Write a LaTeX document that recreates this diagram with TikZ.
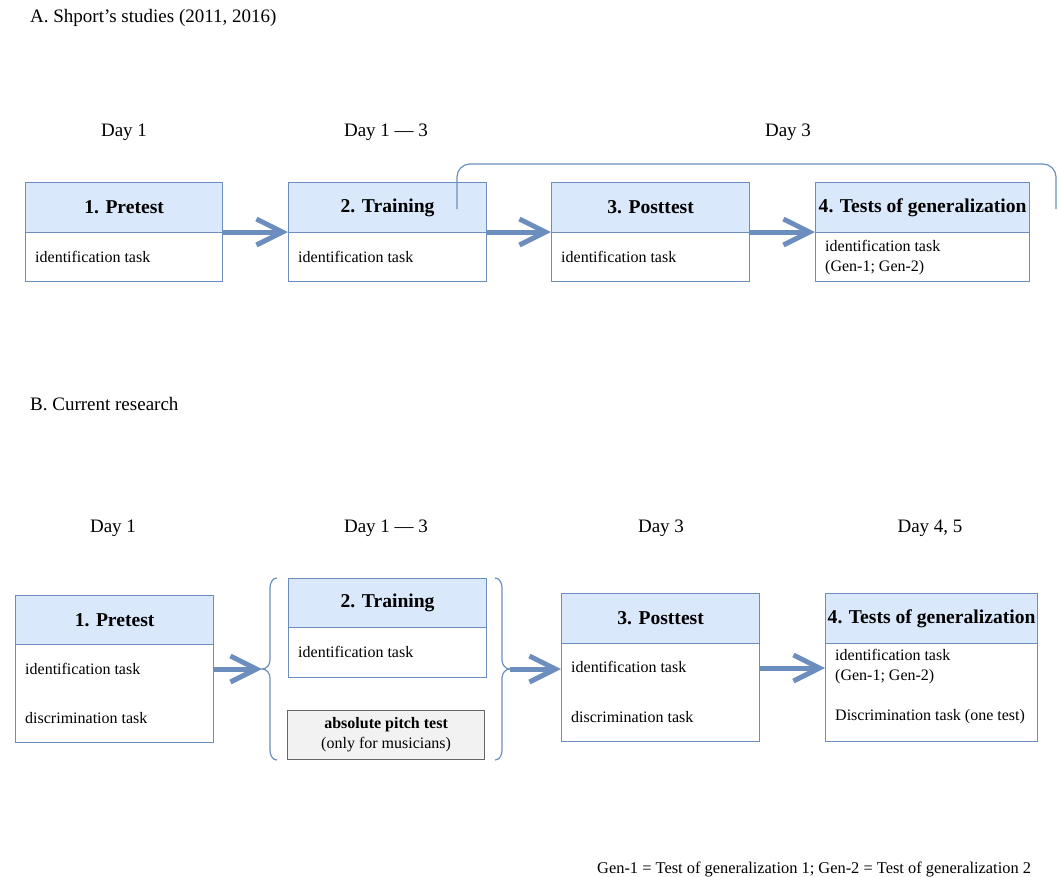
\documentclass[tikz,border=0pt]{standalone}
\usepackage{fontspec}
\setmainfont{Liberation Serif}
\usetikzlibrary{arrows.meta,calc}
\definecolor{bord}{HTML}{6C8EBF}
\definecolor{hfill}{HTML}{DAE8FC}
\definecolor{arr}{HTML}{6C8EBF}
\definecolor{gfill}{HTML}{F2F2F2}
\definecolor{gbord}{HTML}{666666}
\tikzset{
  hdr/.style={draw=bord, fill=hfill, line width=1.2pt, inner sep=0pt, anchor=north west,
    font=\fontsize{19.6}{22}\selectfont\bfseries},
  bodybox/.style={draw=bord, fill=white, line width=1.2pt, inner sep=0pt, anchor=north west},
  task/.style={anchor=west, font=\fontsize{16}{20}\selectfont, inner sep=0pt, align=left},
  lbl/.style={font=\fontsize{19}{22}\selectfont, inner sep=0pt},
  sectitle/.style={anchor=west, font=\fontsize{19}{22}\selectfont, inner sep=0pt},
  thinline/.style={draw=bord, line width=1.2pt},
  bigarrow/.style={draw=arr, line width=5pt, -{Straight Barb[length=26pt,width=26pt,line width=5pt]}}
}
\begin{document}
\begin{tikzpicture}[x=1pt,y=-1pt]
\useasboundingbox (0,0) rectangle (1059,876);

% ---------- Section A ----------
\node[sectitle] (titA) at (30,18) {A. Shport’s studies (2011, 2016)};

\node[lbl] (dA1) at (124,132) {Day 1};
\node[lbl] (dA2) at (386,132) {Day 1 — 3};
\node[lbl] (dA3) at (788,132) {Day 3};

\node[hdr, minimum width=197pt, minimum height=50pt] (a1h) at (25,182) {1. Pretest};
\node[bodybox, minimum width=197pt, minimum height=49pt] (a1b) at (25,232) {};
\node[task] (a1t) at ($(a1b.west)+(10,0)$) {identification task};

\node[hdr, minimum width=198pt, minimum height=50pt] (a2h) at (288,182) {2. Training};
\node[bodybox, minimum width=198pt, minimum height=49pt] (a2b) at (288,232) {};
\node[task] (a2t) at ($(a2b.west)+(10,0)$) {identification task};

\node[hdr, minimum width=198pt, minimum height=50pt] (a3h) at (551,182) {3. Posttest};
\node[bodybox, minimum width=198pt, minimum height=49pt] (a3b) at (551,232) {};
\node[task] (a3t) at ($(a3b.west)+(10,0)$) {identification task};

\node[hdr, minimum width=214pt, minimum height=50pt] (a4h) at (815,182) {4. Tests of generalization};
\node[bodybox, minimum width=214pt, minimum height=49pt] (a4b) at (815,232) {};
\node[task] (a4t) at ($(a4b.west)+(10,0)$) {identification task\\(Gen-1; Gen-2)};

\draw[bigarrow] (a1b.north east) -- (a2b.north west);
\draw[bigarrow] (a2b.north east) -- (a3b.north west);
\draw[bigarrow] (a3b.north east) -- (a4b.north west);

\coordinate (brA1) at (457,209);
\coordinate (brA2) at (457,164);
\coordinate (brA3) at (1056,164);
\coordinate (brA4) at (1056,209);
\draw[thinline, rounded corners=13pt] (brA1) -- (brA2) -- (brA3) -- (brA4);

% ---------- Section B ----------
\node[sectitle] (titB) at (30,404) {B. Current research};

\node[lbl] (dB1) at (113,528) {Day 1};
\node[lbl] (dB2) at (386,528) {Day 1 — 3};
\node[lbl] (dB3) at (661,528) {Day 3};
\node[lbl] (dB4) at (930,528) {Day 4, 5};

\node[hdr, minimum width=198pt, minimum height=49pt] (b1h) at (15,595) {1. Pretest};
\node[bodybox, minimum width=198pt, minimum height=98pt] (b1b) at (15,644) {};
\node[task] (b1t1) at (25,669) {identification task};
\node[task] (b1t2) at (25,718) {discrimination task};

\node[hdr, minimum width=198pt, minimum height=49pt] (b2h) at (288,578) {2. Training};
\node[bodybox, minimum width=198pt, minimum height=50pt] (b2b) at (288,627) {};
\node[task] (b2t) at (298,652) {identification task};

\node[draw=gbord, fill=gfill, line width=1.2pt, inner sep=0pt, anchor=north west,
      minimum width=197pt, minimum height=49pt, align=center,
      font=\fontsize{16}{20}\selectfont] (bap) at (287,710)
      {\textbf{absolute pitch test}\\(only for musicians)};

\node[hdr, minimum width=198pt, minimum height=50pt] (b3h) at (561,593) {3. Posttest};
\node[bodybox, minimum width=198pt, minimum height=98pt] (b3b) at (561,643) {};
\node[task] (b3t1) at (571,667) {identification task};
\node[task] (b3t2) at (571,717) {discrimination task};

\node[hdr, minimum width=212pt, minimum height=50pt] (b4h) at (825,593) {4. Tests of generalization};
\node[bodybox, minimum width=212pt, minimum height=98pt] (b4b) at (825,643) {};
\node[task] (b4t1) at (835,667) {identification task\\(Gen-1; Gen-2)};
\node[task] (b4t2) at (835,717) {Discrimination task (one test)};

% braces
\coordinate (lbt) at (262,669);
\coordinate (rbt) at (510,669);
\draw[thinline] (277,578) to[out=180,in=90] (270,588) -- (270,660)
   to[out=-90,in=0] (lbt) to[out=0,in=90] (270,678) -- (270,750)
   to[out=-90,in=180] (277,760);
\draw[thinline] (495,578) to[out=0,in=90] (502,588) -- (502,660)
   to[out=-90,in=180] (rbt) to[out=180,in=90] (502,678) -- (502,750)
   to[out=-90,in=0] (495,760);

\draw[bigarrow] ($(b1b.north east)+(0,25)$) -- (lbt);
\draw[bigarrow] (rbt) -- ($(b3b.north west)+(0,26)$);
\draw[bigarrow] ($(b3b.north east)+(0,25)$) -- ($(b4b.north west)+(0,25)$);

\node[anchor=base west, font=\fontsize{16.4}{20}\selectfont, inner sep=0pt] (foot) at (597,873)
  {Gen-1 = Test of generalization 1; Gen-2 = Test of generalization 2};
\end{tikzpicture}
\end{document}
